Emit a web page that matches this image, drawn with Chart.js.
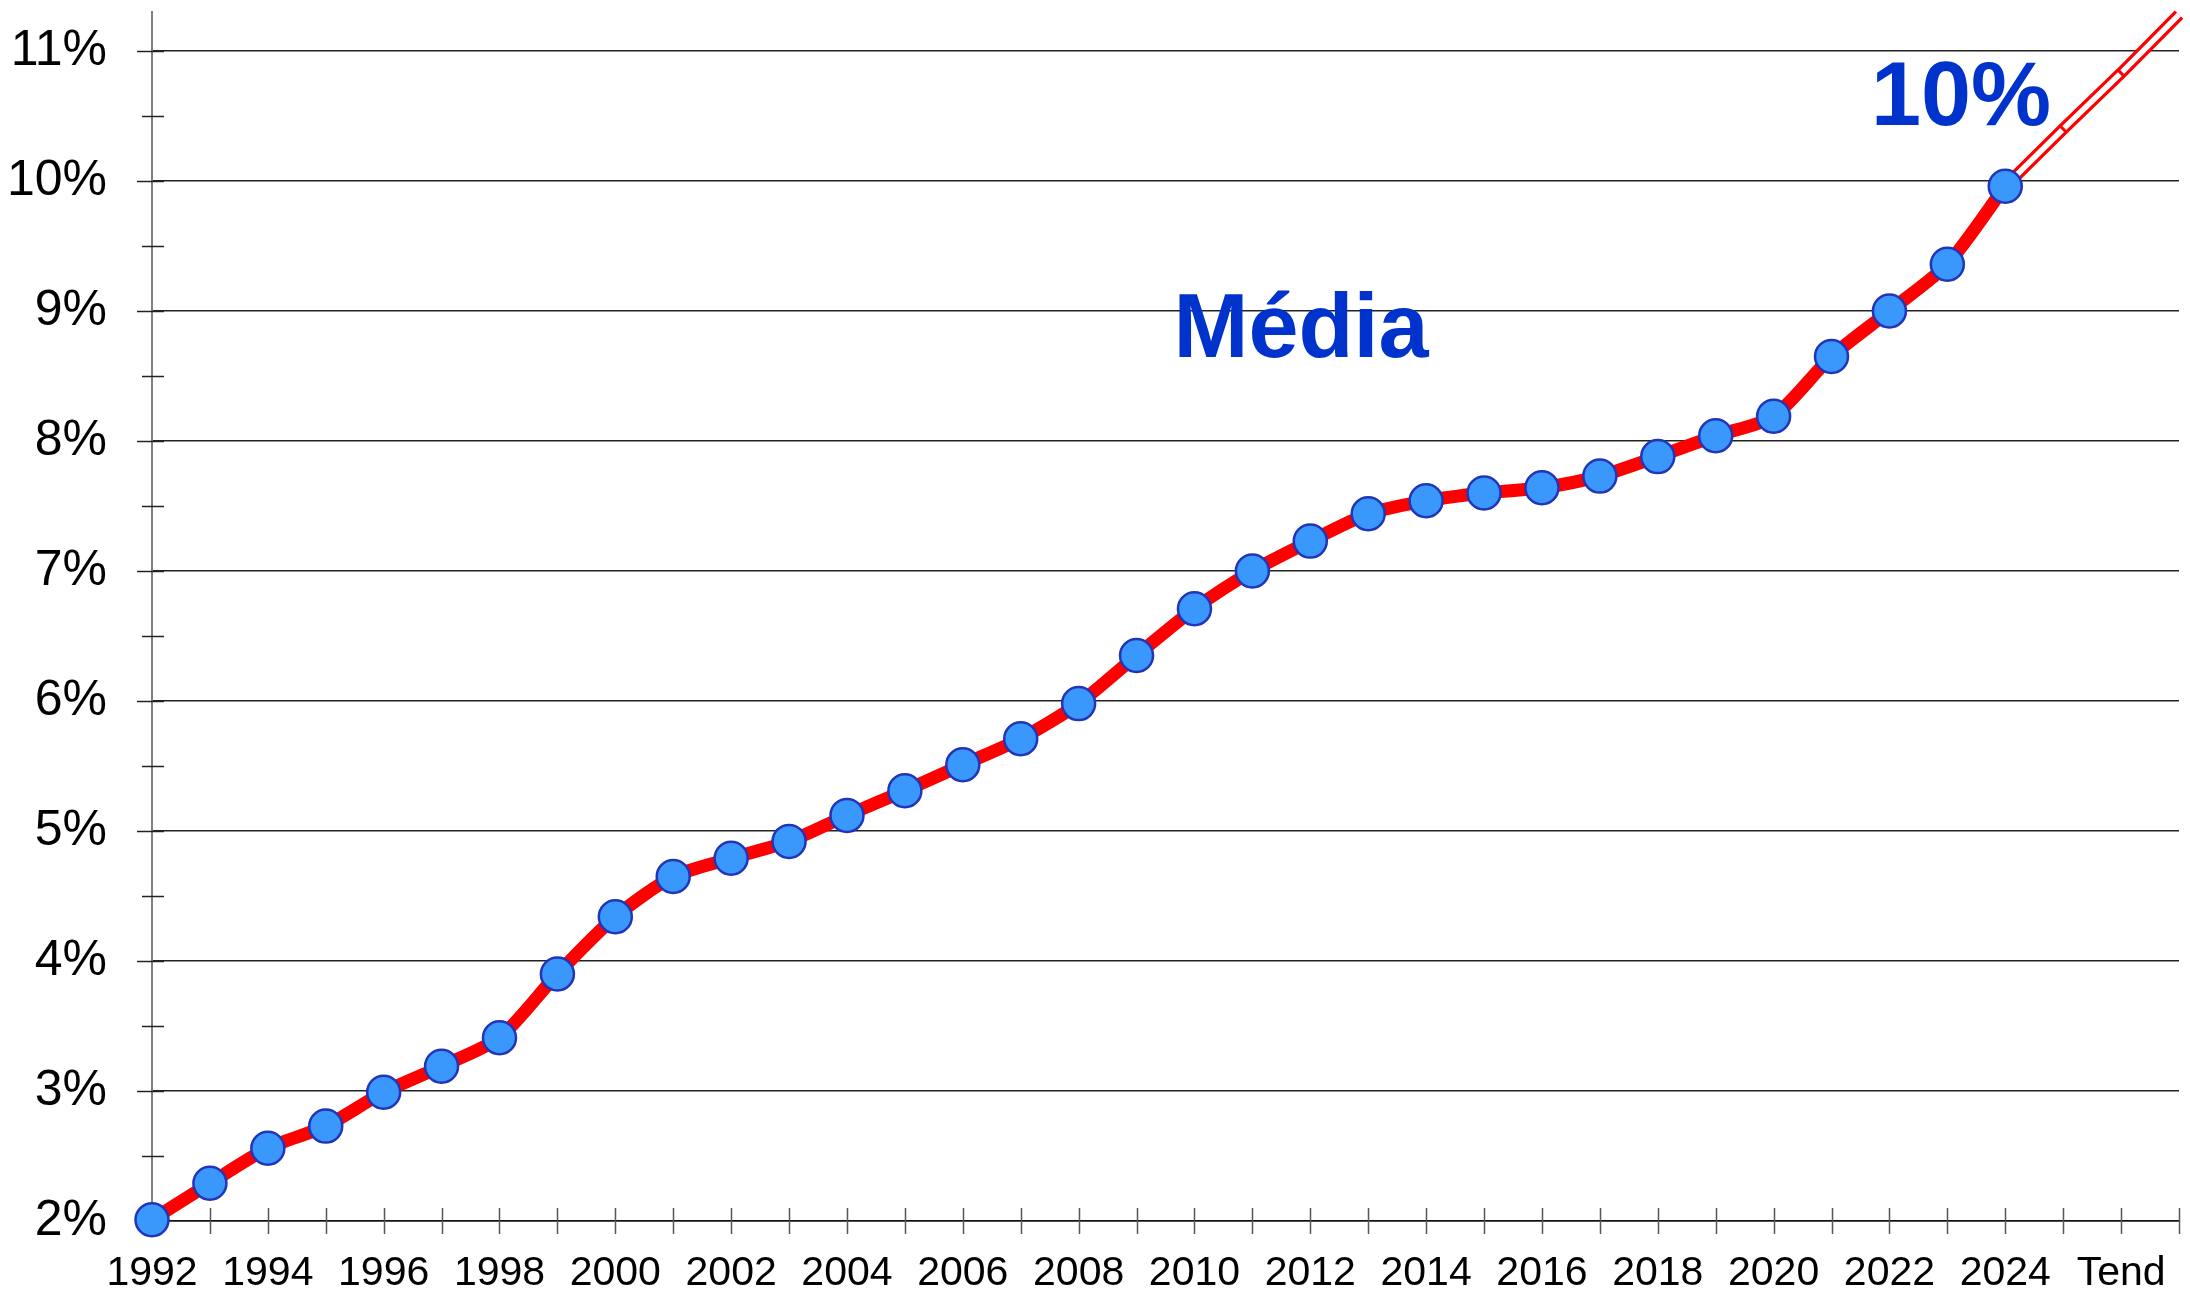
<!DOCTYPE html>
<html>
<head>
<meta charset="utf-8">
<script src="https://cdn.jsdelivr.net/npm/chart.js@4/dist/chart.umd.min.js"></script>
<style>
  html, body { margin: 0; padding: 0; background: #ffffff; }
  #wrap { width: 2190px; height: 1304px; }
</style>
</head>
<body>
<div id="wrap"><canvas id="c" width="2190" height="1304"></canvas></div>
<script>
// ---- data ----
const years = [1992, 1993, 1994, 1995, 1996, 1997, 1998, 1999, 2000, 2001, 2002,
  2003, 2004, 2005, 2006, 2007, 2008, 2009, 2010, 2011, 2012, 2013, 2014,
  2015, 2016, 2017, 2018, 2019, 2020, 2021, 2022, 2023, 2024];
const extraLabels = ['2025', 'Tend', ''];
const mediaValues = [2.01, 2.29, 2.56, 2.73, 2.99, 3.19, 3.41, 3.90, 4.34, 4.65, 4.79,
  4.92, 5.12, 5.31, 5.51, 5.71, 5.98, 6.35, 6.71, 7.00, 7.23, 7.44, 7.54,
  7.60, 7.64, 7.73, 7.88, 8.04, 8.19, 8.65, 9.00, 9.36, 9.96];
const trendValues = [9.96, 10.40, 10.83, 11.28];   // 2024 -> right edge
const yTickValues = [2, 3, 4, 5, 6, 7, 8, 9, 10, 11];
const annotationMain = 'Média';
const annotationValue = '10%';

// ---- derived structures ----
const xLabels = years.map(String).concat(extraLabels);
const trendData = xLabels.map(() => null);
trendValues.forEach((v, i) => { trendData[years.length - 1 + i] = v; });
const trendMarkerRadius = trendData.map((v, i) => (i > years.length - 1 && i < xLabels.length - 1) ? 3.5 : 0);
const isMajor = (v) => yTickValues.some(t => Math.abs(t - v) < 1e-6);

const FONT = "'Liberation Sans', Arial, Helvetica, sans-serif";

const tickMarks = {
  id: 'tickMarks',
  beforeDatasetsDraw(chart) {
    const ctx = chart.ctx;
    const x = chart.scales.x, y = chart.scales.y;
    ctx.save();
    ctx.lineWidth = 1.5;
    ctx.strokeStyle = '#222';
    for (let k = 0; y.min + k * 0.5 <= y.max + 1e-9; k++) {
      const v = y.min + k * 0.5;
      const py = Math.round(y.getPixelForValue(v)) + 0.5;
      const major = isMajor(v);
      ctx.beginPath();
      ctx.moveTo(x.left - (major ? 15 : 10), py);
      ctx.lineTo(x.left + 12, py);
      ctx.stroke();
    }
    ctx.strokeStyle = '#555';
    for (let i = 1; i < xLabels.length; i++) {
      const px = Math.round(x.getPixelForValue(i)) + 0.5;
      ctx.beginPath();
      ctx.moveTo(px, y.bottom - 13);
      ctx.lineTo(px, y.bottom + 13);
      ctx.stroke();
    }
    ctx.restore();
  },
  afterDatasetsDraw(chart) {
    const ctx = chart.ctx;
    ctx.save();
    ctx.fillStyle = '#0033CC';
    ctx.font = 'bold 90px ' + FONT;
    ctx.textAlign = 'center';
    ctx.textBaseline = 'alphabetic';
    ctx.fillText(annotationMain, 1301, 357);
    ctx.fillText(annotationValue, 1961, 125);
    ctx.restore();
  }
};

new Chart(document.getElementById('c'), {
  type: 'line',
  data: {
    labels: xLabels,
    datasets: [
      {
        label: 'Média',
        data: mediaValues,
        borderColor: '#FF0000',
        borderWidth: 13,
        tension: 0.25,
        pointStyle: 'circle',
        pointRadius: 16.5,
        pointBackgroundColor: '#3A98FC',
        pointBorderColor: '#2234B8',
        pointBorderWidth: 2.5,
        clip: false,
        order: 0
      },
      {
        label: 'Tendência',
        data: trendData,
        borderColor: '#FF0000',
        borderWidth: 12,
        tension: 0,
        pointRadius: 0,
        clip: false,
        order: 2
      },
      {
        label: 'Tendência core',
        data: trendData,
        borderColor: '#FFFFFF',
        borderWidth: 5.5,
        tension: 0,
        pointStyle: 'line',
        pointRotation: 45,
        pointRadius: trendMarkerRadius,
        pointBorderColor: '#FF0000',
        pointBorderWidth: 3,
        clip: false,
        order: 1
      }
    ]
  },
  options: {
    responsive: false,
    animation: false,
    layout: { autoPadding: false, padding: { top: 12, right: 11, left: 0, bottom: 0 } },
    plugins: { legend: { display: false }, tooltip: { enabled: false } },
    scales: {
      x: {
        type: 'category',
        offset: false,
        grid: { display: false, drawTicks: false },
        border: { display: true, color: '#111', width: 1.5 },
        ticks: {
          autoSkip: false,
          maxRotation: 0,
          padding: 28,
          color: '#000',
          font: { family: FONT, size: 41 },
          callback: function (val, idx) {
            const lab = this.getLabelForValue(val);
            return (idx % 2 === 0) ? lab : '';
          }
        },
        afterFit(scale) {
          scale.height = 83;
          scale.paddingLeft = 0; scale.paddingRight = 0;
        }
      },
      y: {
        min: 2,
        max: 11.3,
        grid: {
          drawTicks: false,
          lineWidth: 1.5,
          color: (c) => (c.tick && isMajor(c.tick.value)) ? '#222' : 'rgba(0,0,0,0)'
        },
        border: { display: true, color: '#808080', width: 2 },
        ticks: {
          stepSize: 0.5,
          includeBounds: false,
          padding: 45,
          color: '#000',
          font: { family: FONT, size: 50 },
          callback: (v) => isMajor(v) ? Math.round(v) + '%' : ''
        },
        afterFit(scale) {
          scale.width = 152;
          scale.paddingTop = 0; scale.paddingBottom = 0;
        }
      }
    }
  },
  plugins: [tickMarks]
});
</script>
</body>
</html>
